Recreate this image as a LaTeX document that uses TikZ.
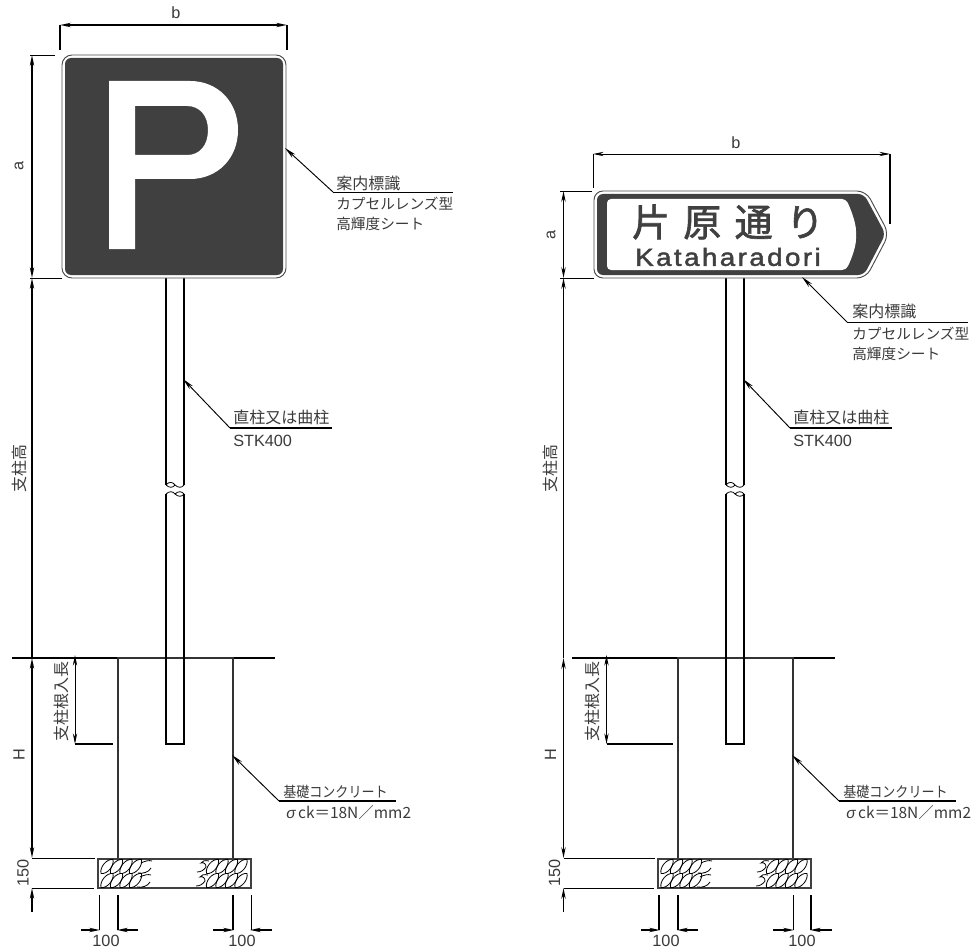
\documentclass[tikz,border=0pt]{standalone}
\usepackage{fontspec}
\usetikzlibrary{arrows.meta}
\setmainfont{Liberation Sans}
\newfontfamily\cjk{Noto Sans CJK JP}
\newfontfamily\cjkheavy[FakeBold=1.6]{Noto Sans CJK JP}
\newfontfamily\latinheavy[FakeBold=1.8,LetterSpace=9]{Liberation Sans}
\definecolor{signdark}{HTML}{404040}
\definecolor{txtgray}{HTML}{3A3A3A}
\tikzset{
  thinln/.style={line width=0.7pt,black},
  thickln/.style={line width=1.25pt,black},
  dimtip/.style={{Stealth[length=8pt,width=3.2pt]}-{Stealth[length=8pt,width=3.2pt]}},
  onetip/.style={-{Stealth[length=8pt,width=3.2pt]}},
  leader/.style={line width=0.7pt,black,{Stealth[length=9pt,width=3.4pt]}-},
  lbl/.style={inner sep=0pt,text=txtgray,font=\fontsize{12.2}{14}\selectfont},
  jp/.style={inner sep=0pt,text=txtgray,font=\cjk\fontsize{11}{13}\selectfont},
  jpm/.style={inner sep=0pt,text=txtgray,font=\cjk\fontsize{11.6}{13}\selectfont},
  jpw/.style={inner sep=0pt,text=txtgray,font=\cjk\fontsize{12}{14}\selectfont},
  gravel/.style={line width=0.6pt,black},
  linerect/.style={line width=0.8pt,draw=black!80},
}
% one leaning oval of the gravel pattern, centred on (#1,#2)
\newcommand{\gravelleaf}[2]{%
  \draw[gravel] (#1-6,#2+7) .. controls (#1-7.5,#2+1) and (#1-0.5,#2-8) .. (#1+6,#2-7)
    .. controls (#1+7.5,#2-1) and (#1+0.5,#2+8) .. (#1-6,#2+7);
}
% #1 prefix, #2..#5 styles of the four bottom extension lines, #6 x-offset of the left dimension chain
\newcommand{\postparts}[6]{%
  \draw[thickln,dimtip] (32+#6,658) -- (32+#6,858);
  \draw[thickln,onetip] (32+#6,912) -- (32+#6,888);
  % ground, foundation, base
  \draw[line width=0.8pt] (12,658) -- (275,658);
  \draw[linerect] (118,858) -- (118,658) -- (233,658) -- (233,858);
  \draw[line width=0.9pt,draw=black!75] (98,859) rectangle (251,888);
  \draw[thinln] (32+#6,858) -- (95,858);
  \draw[thinln] (32+#6,888) -- (94,888);
  % gravel pattern
  \foreach \cx in {107,116.5,126,135.5,212.5,222,231.5,241}{
    \gravelleaf{\cx}{866.5}
    \gravelleaf{\cx}{880.5}
  }
  \foreach \yy/\dd in {860/0,874/-1}{
    \draw[gravel] (141+\dd,\yy+3) .. controls (145+\dd,\yy+1) and (149+\dd,\yy) .. (152+\dd,\yy+1);
    \draw[gravel] (138+\dd,\yy+13) .. controls (143+\dd,\yy+14) and (149+\dd,\yy+12) .. (151+\dd,\yy+8);
    \draw[gravel] (209+\dd,\yy+1) .. controls (205+\dd,\yy) and (202+\dd,\yy+1) .. (201+\dd,\yy+3) .. controls (204+\dd,\yy+2) and (206+\dd,\yy+4) .. (206+\dd,\yy+7);
    \draw[gravel] (206+\dd,\yy+7) .. controls (204+\dd,\yy+10) and (201+\dd,\yy+12) .. (197+\dd,\yy+12);
  }
  % post
  \draw[thickln] (166,278) -- (166,485);
  \draw[thickln] (184,278) -- (184,485);
  \draw[thickln] (166,494) -- (166,744) -- (184,744) -- (184,494);
  \draw[line width=0.6pt] (166,485) .. controls (169,481) and (173,482) .. (175,485) .. controls (178,488) and (182,488) .. (184,485);
  \draw[line width=0.6pt] (166,485) .. controls (169,488) and (173,488) .. (175,485);
  \draw[line width=0.6pt] (166,494) .. controls (169,491) and (173,491) .. (175,494) .. controls (178,497) and (182,497) .. (184,494);
  \draw[line width=0.6pt] (175,494) .. controls (178,491) and (182,491) .. (184,494);
  % embed dimension
  \draw[thinln,dimtip] (75+#6,655) -- (75+#6,744);
  \draw[thickln] (75+#6,744) -- (113,744);
  % bottom dimensions
  \draw[#2] (99,895) -- (99,930);
  \draw[#3] (118,895) -- (118,930);
  \draw[#4] (233,895) -- (233,930);
  \draw[#5] (251,895) -- (251,930);
  \draw[thickln,onetip] (81,930) -- (100,930);
  \draw[thickln,onetip] (138,930) -- (117,930);
  \draw[thickln,onetip] (213,930) -- (234,930);
  \draw[thickln,onetip] (272,930) -- (250,930);
  % labels
  \node[lbl,rotate=90] (#1H) at (19+#6,755) {H};
  \node[lbl,rotate=90] (#1n) at (23+#6,873) {150};
  \node[jpw,rotate=90] (#1e) at (61+#6,701) {支柱根入長};
  \node[jpw,rotate=90] (#1p) at (19+#6,468) {支柱高};
  \node[lbl] (#1l) at (106,941) {100};
  \node[lbl] (#1r) at (242,941) {100};
  % post callout
  \coordinate (#1pa) at (183,379);
  \coordinate (#1pb) at (230,428);
  \coordinate (#1pc) at (332,428);
  \draw[leader] (#1pa) -- (#1pb);
  \draw[thickln] (#1pb) -- (#1pc);
  \node[jpw,anchor=west] (#1pt) at (233,417) {直柱又は曲柱};
  \node[lbl,anchor=west] (#1ps) at (233,441) {STK400};
  % foundation callout
  \coordinate (#1fa) at (232,755);
  \coordinate (#1fb) at (279,801);
  \coordinate (#1fc) at (396,801);
  \draw[leader] (#1fa) -- (#1fb);
  \draw[thickln] (#1fb) -- (#1fc);
  \node[jp,anchor=west] (#1ft) at (283,792) {\scalebox{0.89}[1]{基礎コンクリート}};
  \node[jpm,anchor=west] (#1fs) at (286,813) {{\rmfamily\itshape σ}\,ck＝18N／mm2};
}
\begin{document}
\begin{tikzpicture}[x=0.75pt,y=-0.75pt]
\useasboundingbox (0,0) rectangle (976,949);
% ---------- left ----------
\postparts{L}{thinln}{thickln}{thickln}{thinln}{0}
\draw[thickln,dimtip] (32,55) -- (32,278);
\draw[thickln,onetip] (32,658) -- (32,278);
\draw[thinln] (30,55) -- (55,55);
\draw[thinln] (30,278) -- (62,278);
\draw[thickln,dimtip] (60,25) -- (287,25);
\draw[thickln] (60,25) -- (60,50);
\draw[thickln] (287,25) -- (287,50);
\node[lbl] (La) at (19,166) [rotate=90] {a};
\node[lbl] (Lb) at (176,13) {b};
% sign P
\draw[line width=0.7pt,draw=black!70,fill=white,rounded corners=10*0.75pt] (62,55) rectangle (286,278);
\fill[signdark,rounded corners=6*0.75pt] (65,58) rectangle (283,275);
\fill[white,even odd rule] (109,81) -- (190,81)
   .. controls (218,81) and (238,102) .. (238,130)
   .. controls (238,158) and (218,179) .. (190,179)
   -- (135,179) -- (135,249) -- (109,249) -- cycle
   (135,106) -- (135,155) -- (187,155)
   .. controls (200,155) and (208,145) .. (208,130)
   .. controls (208,116) and (200,106) .. (187,106) -- cycle;
\coordinate (Lsa) at (285,148);
\coordinate (Lsb) at (333,192);
\coordinate (Lsc) at (453,192);
\draw[leader] (Lsa) -- (Lsb);
\draw[thinln] (Lsb) -- (Lsc);
\node[jpw,anchor=west] (Lt1) at (336,183) {案内標識};
\node[jp,anchor=west] (Lt2) at (336,204) {カプセルレンズ型};
\node[jp,anchor=west] (Lt3) at (336,224) {高輝度シート};
% ---------- right ----------
\begin{scope}[shift={(560,0)}]
\postparts{R}{thickln}{thickln}{thinln}{thickln}{-28.5}
\end{scope}
\draw[thickln,dimtip] (563.5,191) -- (563.5,278);
\draw[thickln,onetip] (563.5,658) -- (563.5,278);
\draw[thinln] (560,191) -- (592,191);
\draw[thinln] (560,278) -- (594,278);
\draw[thinln,dimtip] (593,154) -- (890,154);
\draw[thinln] (593,154) -- (593,188);
\draw[thickln] (890,154) -- (890,224);
\node[lbl] (Ra) at (551,235) [rotate=90] {a};
\node[lbl] (Rb) at (736,143) {b};
% sign arrow
\draw[line width=0.7pt,draw=black!70,fill=white,rounded corners=9*0.75pt]
   (594,191) -- (866,191) -- (889,234) -- (866,278) -- (594,278) -- cycle;
\fill[signdark,rounded corners=6*0.75pt]
   (597,194) -- (864,194) -- (885.5,234) -- (864,275) -- (597,275) -- cycle;
\fill[white,rounded corners=4*0.75pt] (607,199) -- (846,199)
   .. controls (852,212) and (856,224) .. (856,235)
   .. controls (856,246) and (852,258) .. (846,270) -- (607,270) -- cycle;
\node[inner sep=0pt,text=signdark,font=\cjkheavy\fontsize{28.5}{30}\selectfont] (Rn1) at (728,222) {片\hspace{10pt}原\hspace{10pt}通\hspace{10pt}り};
\node[inner sep=0pt,text=signdark,font=\latinheavy\fontsize{18.5}{20}\selectfont] (Rn2) at (728,257) {\scalebox{1.12}[1]{Kataharadori}};
\coordinate (Rsa) at (802,277);
\coordinate (Rsb) at (847,322);
\coordinate (Rsc) at (968,322);
\draw[leader] (Rsa) -- (Rsb);
\draw[thinln] (Rsb) -- (Rsc);
\node[jpw,anchor=west] (Rt1) at (852,311) {案内標識};
\node[jp,anchor=west] (Rt2) at (852,334) {カプセルレンズ型};
\node[jp,anchor=west] (Rt3) at (852,354) {高輝度シート};
\end{tikzpicture}
\end{document}
